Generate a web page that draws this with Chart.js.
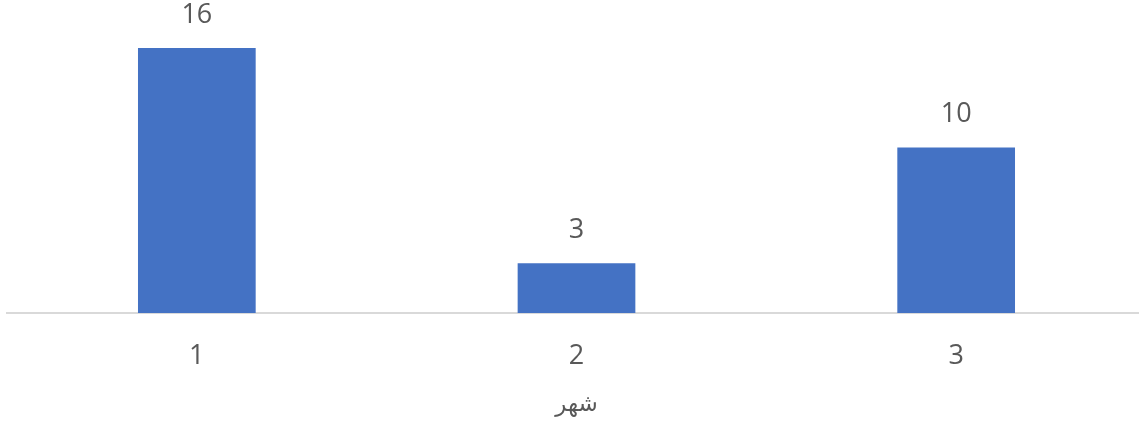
<!DOCTYPE html>
<html>
<head>
<meta charset="utf-8">
<script src="https://cdn.jsdelivr.net/npm/chart.js@4"></script>
<style>
  html, body { margin: 0; padding: 0; background: #ffffff; overflow: hidden; }
  #wrap { width: 1146px; height: 428px; }
</style>
</head>
<body>
<div id="wrap"><canvas id="myChart" width="1146" height="428"></canvas></div>
<script>
const categories = ['1', '2', '3'];
const counts = [16, 3, 10];
const axisTitle = 'شهر';

const labelFont = '"Open Sans", "DejaVu Sans", sans-serif';

// values written above each bar
const barValueLabels = {
  id: 'barValueLabels',
  afterDatasetsDraw(chart) {
    const ctx = chart.ctx;
    const meta = chart.getDatasetMeta(0);
    ctx.save();
    ctx.font = '27px ' + labelFont;
    ctx.fillStyle = '#595959';
    ctx.textAlign = 'center';
    ctx.textBaseline = 'middle';
    meta.data.forEach((bar, i) => {
      ctx.fillText(String(counts[i]), bar.x, bar.y - 33);
    });
    ctx.restore();
  }
};

const ctx = document.getElementById('myChart').getContext('2d');
const myChart = new Chart(ctx, {
  type: 'bar',
  data: {
    labels: categories,
    datasets: [{
      data: counts,
      backgroundColor: '#4472c4',
      borderWidth: 0,
      categoryPercentage: 1,
      barPercentage: 0.31
    }]
  },
  options: {
    responsive: false,
    animation: false,
    events: [],
    layout: { padding: { top: 15, left: 7, right: 0, bottom: 0 } },
    plugins: {
      legend: { display: false },
      title: { display: false },
      tooltip: { enabled: false }
    },
    scales: {
      y: {
        display: false,
        min: 0,
        max: 18
      },
      x: {
        grid: { display: false, drawTicks: false },
        border: { display: true, color: '#d9d9d9', width: 2 },
        ticks: {
          color: '#595959',
          padding: 27,
          font: { size: 27, family: labelFont }
        },
        title: {
          display: true,
          text: axisTitle,
          color: '#595959',
          padding: { top: -8, bottom: 9 },
          font: { size: 23, family: '"DejaVu Sans", "Open Sans", sans-serif' }
        }
      }
    }
  },
  plugins: [barValueLabels]
});
</script>
</body>
</html>
